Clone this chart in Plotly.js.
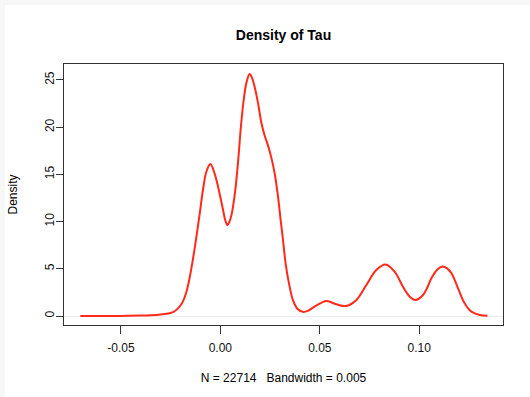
<!DOCTYPE html>
<html>
<head>
<meta charset="utf-8">
<script src="https://cdn.plot.ly/plotly-3.0.1.min.js"></script>
<style>
html,body{margin:0;padding:0;background:#f7f7f7;width:530px;height:397px;overflow:hidden;}
#chart{position:absolute;left:5px;top:5px;width:525px;height:392px;background:#fff;}
</style>
</head>
<body>
<div id="chart"></div>
<script>
// Density estimate of Tau
const tauX = [-0.0704, -0.0600, -0.0500, -0.0400, -0.0350, -0.0300, -0.0255, -0.0230, -0.0205, -0.0188, -0.0170, -0.0154, -0.0138, -0.0121, -0.0104, -0.0087, -0.0070, -0.0050, -0.0029, -0.0015, 0.0000, 0.0013, 0.0024, 0.0035, 0.0046, 0.0056, 0.0063, 0.0075, 0.0089, 0.0104, 0.0118, 0.0131, 0.0147, 0.0160, 0.0172, 0.0189, 0.0206, 0.0223, 0.0239, 0.0256, 0.0273, 0.0290, 0.0303, 0.0315, 0.0328, 0.0345, 0.0365, 0.0390, 0.0415, 0.0440, 0.0474, 0.0533, 0.0583, 0.0634, 0.0684, 0.0734, 0.0784, 0.0831, 0.0876, 0.0918, 0.0952, 0.0981, 0.1019, 0.1040, 0.1061, 0.1090, 0.1116, 0.1140, 0.1162, 0.1195, 0.1228, 0.1262, 0.1304, 0.1343];
const density = [0.00, 0.00, 0.01, 0.04, 0.08, 0.16, 0.29, 0.50, 1.00, 1.55, 2.60, 4.10, 6.00, 8.30, 10.80, 13.40, 15.30, 16.10, 15.10, 14.00, 12.60, 11.30, 10.20, 9.64, 10.00, 10.70, 11.50, 13.30, 16.30, 20.20, 23.00, 24.70, 25.64, 25.20, 24.30, 22.60, 20.50, 19.10, 18.10, 16.80, 15.10, 12.64, 10.17, 8.05, 5.58, 3.46, 1.69, 0.71, 0.44, 0.55, 0.99, 1.59, 1.24, 1.06, 1.69, 3.28, 4.87, 5.45, 4.69, 3.10, 2.04, 1.69, 2.22, 3.00, 3.99, 4.90, 5.25, 5.05, 4.52, 2.93, 1.35, 0.46, 0.11, 0.02];
const xTicks = [-0.05, 0.00, 0.05, 0.10];
const xTickText = ["-0.05", "0.00", "0.05", "0.10"];
const yTicks = [0, 5, 10, 15, 20, 25];
const yTickText = ["0", "5", "10", "15", "20", "25"];
const chartTitle = "Density of Tau";
const xTitle = "N = 22714   Bandwidth = 0.005";
const yTitle = "Density";

const font = {family: "Liberation Sans, Arial, Helvetica, sans-serif", size: 12, color: "#000"};

const trace = {
  x: tauX, y: density, type: "scatter", mode: "lines",
  line: {color: "#ff2a1a", width: 2, shape: "spline", smoothing: 1},
  hoverinfo: "skip"
};

const layout = {
  width: 525, height: 392,
  margin: {l: 59, r: 27, t: 59, b: 72},
  paper_bgcolor: "#fff", plot_bgcolor: "#fff",
  font: font,
  showlegend: false,
  title: {text: chartTitle, font: {family: font.family, size: 14, color: "#000", weight: "bold"},
          x: 0.5, xref: "paper", xanchor: "center", y: 1 - 30/392, yref: "container", yanchor: "middle"},
  xaxis: {
    range: [-0.0786, 0.1421], tickvals: xTicks, ticktext: xTickText,
    showgrid: false, zeroline: false, showline: true, mirror: true,
    linecolor: "#333", linewidth: 1, ticks: "outside", ticklen: 8, tickcolor: "#333",
    ticklabelstandoff: 4,
    tickfont: {family: font.family, size: 12, color: "#111"},
    title: {text: xTitle, font: {family: font.family, size: 12, color: "#000"}, standoff: 19}
  },
  yaxis: {
    range: [-0.953, 26.69], tickvals: yTicks, ticktext: yTickText, tickangle: -90,
    showgrid: false, zeroline: true, zerolinecolor: "#ececec", zerolinewidth: 1,
    showline: true, mirror: true,
    linecolor: "#333", linewidth: 1, ticks: "outside", ticklen: 7, tickcolor: "#333",
    ticklabelstandoff: -3,
    tickfont: {family: font.family, size: 12, color: "#111"},
    title: {text: yTitle, font: {family: font.family, size: 12, color: "#000"}, standoff: 23}
  }
};

Plotly.newPlot("chart", [trace], layout, {staticPlot: true, displayModeBar: false});
</script>
</body>
</html>
